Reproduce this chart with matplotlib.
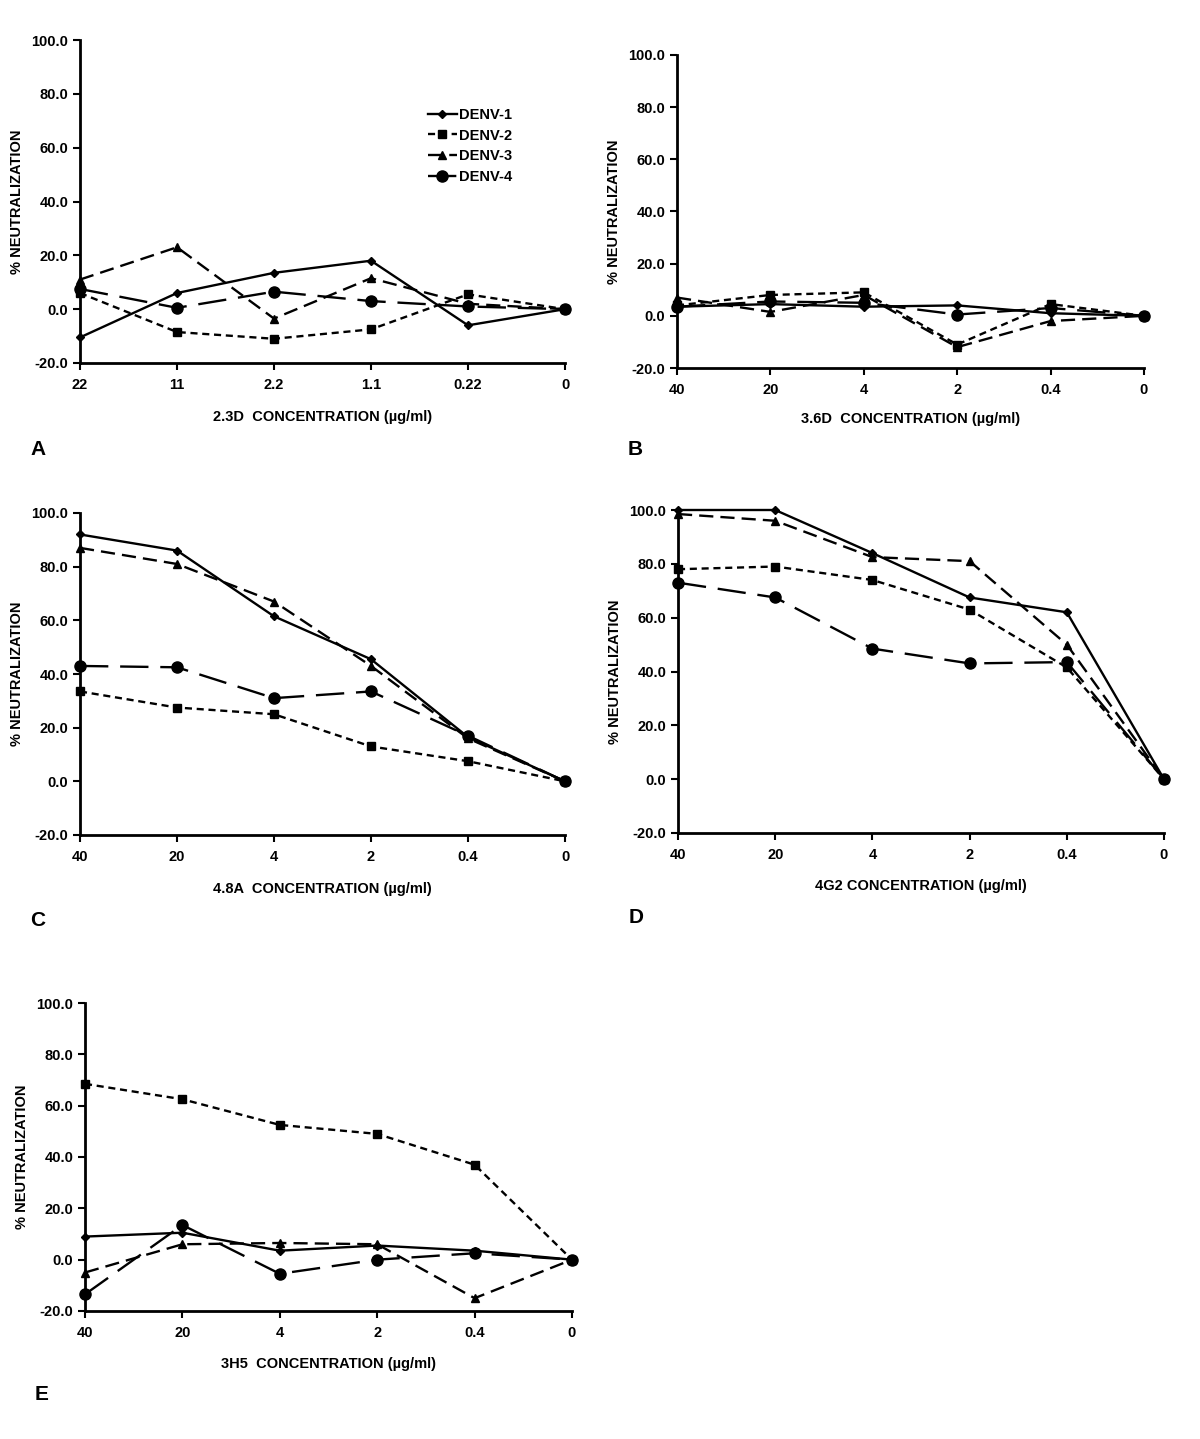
import matplotlib
matplotlib.use("Agg")
import matplotlib.pyplot as plt

plt.rcParams['font.family'] = ['Liberation Sans Narrow', 'Liberation Sans', 'DejaVu Sans']

series_names = ["DENV-1", "DENV-2", "DENV-3", "DENV-4"]

ticks_A = ["22", "11", "2.2", "1.1", "0.22", "0"]
ticks_other = ["40", "20", "4", "2", "0.4", "0"]

A_d1 = [-10.5, 6, 13.5, 18, -6, 0]
A_d2 = [6, -8.5, -11, -7.5, 5.5, 0]
A_d3 = [11, 23, -3.5, 11.5, 2, 0]
A_d4 = [7.5, 0.5, 6.5, 3, 1, 0]

B_d1 = [3.5, 4.5, 3.5, 4, 1, 0]
B_d2 = [4, 8, 9, -11, 4.5, 0]
B_d3 = [7, 1.5, 8, -12, -2, 0]
B_d4 = [3.5, 5.5, 5, 0.5, 3, 0]

C_d1 = [92, 86, 61.5, 45.5, 16.5, 0]
C_d2 = [33.5, 27.5, 25, 13, 7.5, 0]
C_d3 = [87, 81, 67, 43, 16, 0]
C_d4 = [43, 42.5, 31, 33.5, 17, 0]

D_d1 = [100, 100, 84, 67.5, 62, 0]
D_d2 = [78, 79, 74, 63, 41.5, 0]
D_d3 = [98.5, 96, 82.5, 81, 50, 0]
D_d4 = [73, 67.5, 48.5, 43, 43.5, 0]

E_d1 = [9, 10.5, 3.5, 5.5, 3.5, 0]
E_d2 = [68.5, 62.5, 52.5, 49, 37, 0]
E_d3 = [-5, 6, 6.5, 6, -15, 0]
E_d4 = [-13.5, 13.5, -5.5, 0, 2.5, 0]

xlabels = ["2.3D  CONCENTRATION (\u00b5g/ml)", "3.6D  CONCENTRATION (\u00b5g/ml)",
           "4.8A  CONCENTRATION (\u00b5g/ml)", "4G2 CONCENTRATION (\u00b5g/ml)",
           "3H5  CONCENTRATION (\u00b5g/ml)"]
panel_letters = ["A", "B", "C", "D", "E"]

styles = [
    dict(linestyle='-', marker='D', markersize=4),
    dict(linestyle=(0, (3, 2)), marker='s', markersize=6),
    dict(linestyle=(0, (6, 3)), marker='^', markersize=6),
    dict(linestyle=(0, (12, 5)), marker='o', markersize=8),
]

W, H = 1200, 1439
fig = plt.figure(figsize=(W / 100, H / 100), dpi=100)

# axes boxes in pixels: left, right, top, bottom
boxes = [(80, 565, 40, 363), (677, 1144, 55, 368), (80, 565, 513, 835),
         (678, 1164, 510, 833), (85, 572, 1003, 1311)]
data = [[A_d1, A_d2, A_d3, A_d4], [B_d1, B_d2, B_d3, B_d4], [C_d1, C_d2, C_d3, C_d4],
        [D_d1, D_d2, D_d3, D_d4], [E_d1, E_d2, E_d3, E_d4]]
letter_pos = [(38, 449), (635, 449), (38, 920), (636, 918), (42, 1395)]
xlabel_y = [417, 419, 889, 886, 1364]

for i, (l, r, t, b) in enumerate(boxes):
    ax = fig.add_axes([l / W, 1 - b / H, (r - l) / W, (b - t) / H])
    ticks = ticks_A if i == 0 else ticks_other
    x = list(range(len(ticks)))
    for name, vals, st in zip(series_names, data[i], styles):
        ax.plot(x, vals, color='black', linewidth=1.7, label=name, clip_on=False, **st)
    ax.set_xlim(0, 5)
    ax.set_ylim(-20, 100)
    ax.set_yticks(range(-20, 101, 20))
    ax.set_yticklabels([f"{v:.1f}" for v in range(-20, 101, 20)])
    ax.set_xticks(x)
    ax.set_xticklabels(ticks)
    for s in ['top', 'right']:
        ax.spines[s].set_visible(False)
    for s in ['left', 'bottom']:
        ax.spines[s].set_linewidth(2)
    ax.tick_params(axis='both', direction='out', length=5, width=1.5, labelsize=10.5)
    ax.tick_params(axis='x', pad=6)
    for lab in ax.get_xticklabels() + ax.get_yticklabels():
        lab.set_fontweight('bold')
    ax.set_ylabel("% NEUTRALIZATION", fontsize=10.5, fontweight='bold',
                  family=['Liberation Sans', 'DejaVu Sans'], labelpad=5)
    cx = (l + r) / 2
    fig.text(cx / W, 1 - xlabel_y[i] / H, xlabels[i], ha='center', va='center',
             fontsize=10.5, fontweight='bold', family=['Liberation Sans', 'DejaVu Sans'])
    lx, ly = letter_pos[i]
    fig.text(lx / W, 1 - ly / H, panel_letters[i], ha='center', va='center',
             fontsize=15, fontweight='bold', family=['Liberation Sans', 'DejaVu Sans'])
    if i == 0:
        leg = ax.legend(loc='upper left', bbox_to_anchor=(0.69, 0.83), frameon=False,
                        handlelength=2.0, handletextpad=0.15, labelspacing=0.45,
                        prop={'family': ['Liberation Sans', 'DejaVu Sans'],
                              'weight': 'bold', 'size': 10.5})

fig.savefig("out.png", dpi=100)
